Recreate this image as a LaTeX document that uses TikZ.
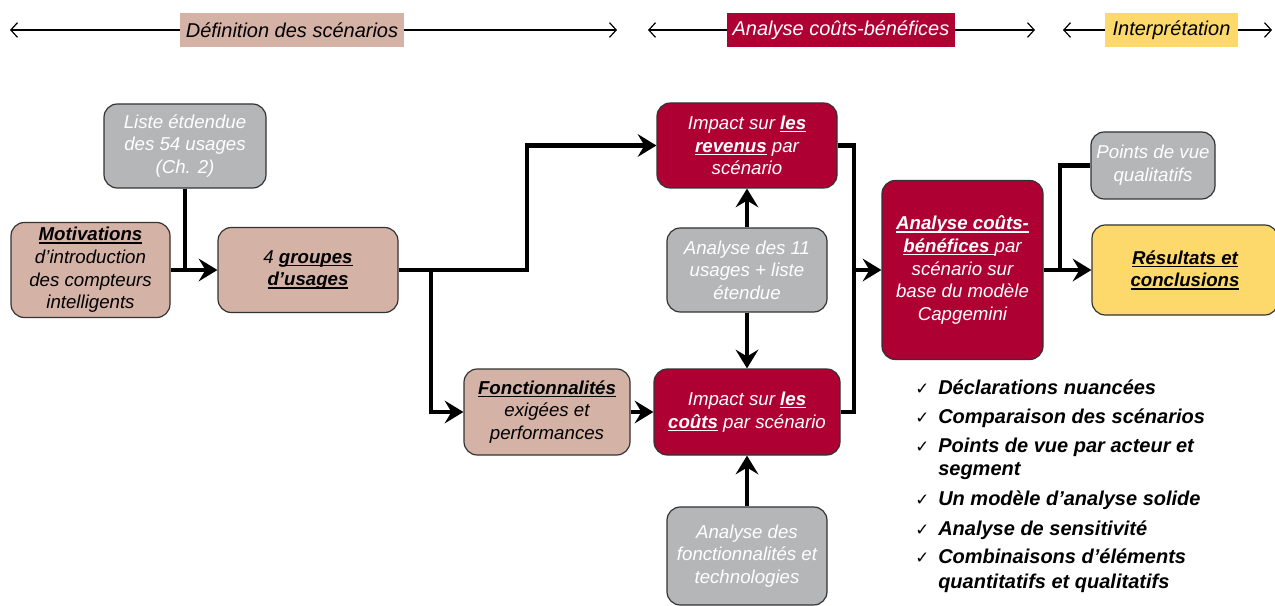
\documentclass[tikz,border=0pt]{standalone}
\usepackage{fontspec}
\setmainfont{Liberation Sans}
\newfontfamily\dejavu{DejaVu Sans}
\usetikzlibrary{arrows.meta}
\definecolor{cTan}{HTML}{D5B2A6}
\definecolor{cRed}{HTML}{AF0033}
\definecolor{cGray}{HTML}{B5B6B8}
\definecolor{cYel}{HTML}{FDD86B}
\newsavebox\ubox
\newcommand\ubf[1]{\sbox\ubox{\bfseries #1}\leavevmode\rlap{\rule[-2.2pt]{\wd\ubox}{1.1pt}}\usebox\ubox}
\begin{document}
\begin{tikzpicture}[x=0.75pt,y=-0.75pt,
  box/.style={draw=black!80, line width=0.9pt, rounded corners=10pt, align=center,
    font=\fontsize{14}{17}\selectfont\itshape, inner sep=2pt},
  tanbox/.style={box, fill=cTan, text=black},
  redbox/.style={box, fill=cRed, text=white},
  graybox/.style={box, fill=cGray, text=white},
  yelbox/.style={box, fill=cYel, text=black},
  hdr/.style={font=\fontsize{15}{18}\selectfont\itshape, minimum height=25.5pt, inner sep=0pt},
  harr/.style={line width=0.9pt, -{Straight Barb[length=5pt,width=11pt]}},
  conn/.style={line width=3.6pt},
  arr/.style={conn, -{Stealth[length=14pt,width=17pt,inset=5pt]}},
  chk/.style={anchor=base west, font=\fontsize{15}{16}\selectfont\bfseries\itshape, inner sep=0pt},
  ck/.style={anchor=base west, font=\dejavu\fontsize{12.5}{14}\selectfont, inner sep=0pt}]
\useasboundingbox (0,0) rectangle (1275,606);

% headers
\node[hdr, fill=cTan, text=black, minimum width=168pt] (h1) at (292,30) {Définition des scénarios};
\node[hdr, fill=cRed, text=white, minimum width=171pt] (h2) at (841,30) {Analyse coûts-bénéfices};
\node[hdr, fill=cYel, text=black, minimum width=99.75pt] (h3) at (1171.5,30) {Interprétation};
\coordinate (h1a) at (10,30); \coordinate (h1b) at (617,30);
\coordinate (h2a) at (648,30); \coordinate (h2b) at (1035,30);
\coordinate (h3a) at (1063,30); \coordinate (h3b) at (1272,30);
\draw[harr] (h1.west) -- (h1a); \draw[harr] (h1.east) -- (h1b);
\draw[harr] (h2.west) -- (h2a); \draw[harr] (h2.east) -- (h2b);
\draw[harr] (h3.west) -- (h3a); \draw[harr] (h3.east) -- (h3b);

% boxes
\node[graybox, minimum width=121.5pt, minimum height=63pt] (liste) at (185,146) {Liste étdendue\\des 54 usages\\(Ch. 2)};
\node[tanbox, minimum width=119.25pt, minimum height=71.25pt] (motiv) at (90.5,270) {\ubf{Motivations}\\d’introduction\\des compteurs\\intelligents};
\node[tanbox, minimum width=135pt, minimum height=63.75pt] (grp) at (308,270) {4 \ubf{groupes}\\\ubf{d’usages}};
\node[redbox, minimum width=135pt, minimum height=63.75pt] (rev) at (747,145.5) {Impact sur \ubf{les}\\\ubf{revenus} par\\scénario};
\node[graybox, minimum width=120pt, minimum height=63pt] (a11) at (747,270) {Analyse des 11\\usages + liste\\étendue};
\node[tanbox, minimum width=124.5pt, minimum height=64.5pt] (fct) at (547,412) {\ubf{Fonctionnalités}\\exigées et\\performances};
\node[redbox, minimum width=139.5pt, minimum height=64.5pt] (cout) at (747,412) {Impact sur \ubf{les}\\\ubf{coûts} par scénario};
\node[graybox, minimum width=120pt, minimum height=73.5pt] (afct) at (747,556) {Analyse des\\fonctionnalités et\\technologies};
\node[redbox, minimum width=120.75pt, minimum height=134.25pt] (acb) at (962.5,270) {\ubf{Analyse coûts-}\\\ubf{bénéfices }par\\scénario sur\\base du modèle\\Capgemini};
\node[graybox, minimum width=93pt, minimum height=50.25pt] (pdv) at (1153,165.5) {Points de vue\\qualitatifs};
\node[yelbox, minimum width=139.5pt, minimum height=67.5pt] (res) at (1185,270) {\ubf{Résultats et}\\\ubf{conclusions}};

% connectors
\draw[conn] (liste.south) -- (liste.south |- motiv.east);
\draw[arr] (motiv.east) -- (grp.west);
\coordinate (j1) at (527,270);
\coordinate (j2) at (431,270);
\draw[arr] (grp.east) -- (j1) |- (rev.west);
\draw[arr] (j2) |- (fct.west);
\draw[arr] (fct.east) -- (cout.west);
\draw[arr] (a11.north) -- (rev.south);
\draw[arr] (a11.south) -- (cout.north);
\draw[arr] (afct.north) -- (cout.south);
\coordinate (j3) at (854,270);
\draw[conn] (rev.east) -| (j3) |- (cout.east);
\draw[arr] (j3) -- (acb.west);
\draw[arr] (acb.east) -- (res.west);
\coordinate (j4) at (1060,270);
\draw[conn] (pdv.west) -| (j4);

% checklist
\node[ck] (k1) at (915,394) {✓};
\node[ck] (k2) at (915,423) {✓};
\node[ck] (k3) at (915,452) {✓};
\node[ck] (k4) at (915,505) {✓};
\node[ck] (k5) at (915,535) {✓};
\node[ck] (k6) at (915,563) {✓};
\node[chk] (t1) at (938,394) {Déclarations nuancées};
\node[chk] (t2) at (938,423) {Comparaison des scénarios};
\node[chk] (t3) at (938,452) {Points de vue par acteur et};
\node[chk] (t4) at (938,475) {segment};
\node[chk] (t5) at (938,505) {Un modèle d’analyse solide};
\node[chk] (t6) at (938,535) {Analyse de sensitivité};
\node[chk] (t7) at (938,563) {Combinaisons d’éléments};
\node[chk] (t8) at (938,588) {quantitatifs et qualitatifs};
\end{tikzpicture}
\end{document}
